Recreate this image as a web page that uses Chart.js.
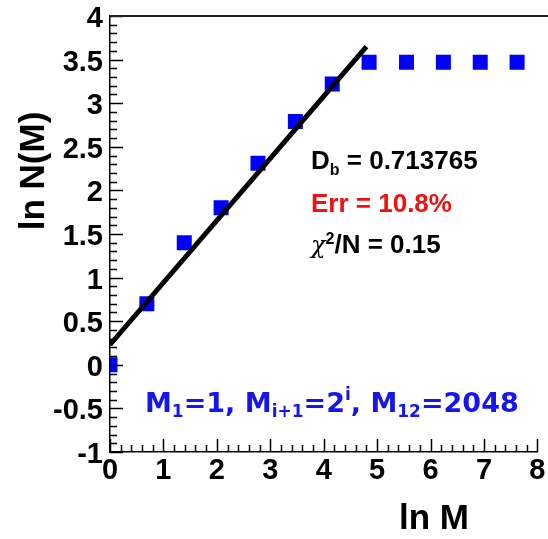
<!DOCTYPE html>
<html lang="en">
<head>
    <meta charset="UTF-8">
    <title>ln N(M) vs ln M</title>
    <script src="https://cdn.jsdelivr.net/npm/chart.js@4/dist/chart.umd.min.js"></script>
    <style>
        body { margin: 0; background: #fff; }
    </style>
</head>
<body>
    <canvas id="myChart" width="548" height="539"></canvas>
    <script>
        // measured points: x = ln M, y = ln N(M)
        const lnM = [0, 0.69, 1.39, 2.08, 2.77, 3.47, 4.16, 4.85, 5.55, 6.24, 6.93, 7.62];
        const lnN = [0, 0.70, 1.40, 1.80, 2.31, 2.79, 3.22, 3.47, 3.47, 3.47, 3.47, 3.47];

        // fitted line end points
        const fitX = [0, 4.8];
        const fitY = [0.23, 3.65];

        const FAM = '"Liberation Sans", Arial, sans-serif';
        const FONT = 'bold 26px ' + FAM;

        // ROOT style ticks pointing into the frame, plus top frame line and text
        const rootFrame = {
            id: 'rootFrame',
            afterDatasetsDraw(chart) {
                const ctx = chart.ctx;
                const a = chart.chartArea;
                const xs = chart.scales.x, ys = chart.scales.y;
                ctx.save();
                ctx.strokeStyle = '#000';
                ctx.lineWidth = 1.5;
                ctx.beginPath();
                for (let i = 0; i <= 50; i++) {
                    const v = -1 + i * 0.1;
                    const py = Math.round(ys.getPixelForValue(v)) + 0.5;
                    const len = (i % 5 === 0) ? 13 : 7;
                    ctx.moveTo(a.left, py);
                    ctx.lineTo(a.left + len, py);
                }
                for (let i = 0; i <= 40; i++) {
                    const v = i * 0.2;
                    const px = Math.round(xs.getPixelForValue(v)) + 0.5;
                    const len = (i % 5 === 0) ? 13 : 7;
                    ctx.moveTo(px, a.bottom);
                    ctx.lineTo(px, a.bottom - len);
                }
                ctx.stroke();

                // top frame line
                ctx.lineWidth = 2;
                ctx.strokeStyle = '#222';
                ctx.beginPath();
                ctx.moveTo(a.left, a.top);
                ctx.lineTo(chart.width, a.top);
                ctx.stroke();

                // axis titles
                ctx.fillStyle = '#000';
                ctx.font = 'bold 35px ' + FAM;
                ctx.textAlign = 'center';
                ctx.textBaseline = 'middle';
                ctx.fillText('ln M', 434, 519);
                ctx.save();
                ctx.translate(34, 171);
                ctx.rotate(-Math.PI / 2);
                ctx.fillText('ln N(M)', 0, 0);
                ctx.restore();

                // fit results
                ctx.textAlign = 'left';
                ctx.textBaseline = 'alphabetic';
                const runs = (x, y, parts) => {
                    parts.forEach(p => {
                        ctx.font = p.font;
                        ctx.fillStyle = p.color;
                        ctx.fillText(p.t, x, y + (p.dy || 0));
                        x += ctx.measureText(p.t).width;
                    });
                };
                const small = 'bold 16px ' + FAM;
                runs(311, 169, [
                    { t: 'D', font: FONT, color: '#000' },
                    { t: 'b', font: small, color: '#000', dy: 6 },
                    { t: ' = 0.713765', font: FONT, color: '#000' }
                ]);
                runs(311, 212, [{ t: 'Err = 10.8%', font: FONT, color: '#f01010' }]);
                runs(311, 253, [
                    { t: 'χ', font: 'italic 24px "DejaVu Serif", serif', color: '#000' },
                    { t: '2', font: small, color: '#000', dy: -9 },
                    { t: '/N = 0.15', font: FONT, color: '#000' }
                ]);

                const big = 'bold 27px "DejaVu Sans", Verdana, sans-serif';
                const sub = 'bold 17px "DejaVu Sans", Verdana, sans-serif';
                const blue = '#1515ee';
                runs(145, 412, [
                    { t: 'M', font: big, color: blue },
                    { t: '1', font: sub, color: blue, dy: 5 },
                    { t: '=1, M', font: big, color: blue },
                    { t: 'i+1', font: sub, color: blue, dy: 5 },
                    { t: '=2', font: big, color: blue },
                    { t: 'i', font: sub, color: blue, dy: -12 },
                    { t: ', M', font: big, color: blue },
                    { t: '12', font: sub, color: blue, dy: 5 },
                    { t: '=2048', font: big, color: blue }
                ]);
                ctx.restore();
            }
        };

        const tickFont = { family: FAM, size: 29, weight: 'bold' };

        const ctx = document.getElementById('myChart').getContext('2d');
        new Chart(ctx, {
            type: 'scatter',
            data: {
                datasets: [{
                    label: 'fit',
                    type: 'line',
                    data: fitX.map((x, i) => ({ x: x, y: fitY[i] })),
                    borderColor: '#000',
                    borderWidth: 5,
                    pointRadius: 0,
                    fill: false,
                    order: 0
                }, {
                    label: 'ln N(M)',
                    data: lnM.map((x, i) => ({ x: x, y: lnN[i] })),
                    backgroundColor: '#0000ff',
                    borderWidth: 0,
                    pointStyle: 'rect',
                    pointRadius: 10.6,
                    order: 1
                }]
            },
            options: {
                responsive: false,
                animation: false,
                devicePixelRatio: 1,
                layout: { padding: { left: 0, right: 8, top: 16, bottom: 0 } },
                plugins: { legend: { display: false }, tooltip: { enabled: false } },
                scales: {
                    x: {
                        type: 'linear',
                        min: 0,
                        max: 8,
                        grid: { display: false, drawTicks: false },
                        border: { display: true, color: '#000', width: 1.5 },
                        ticks: { stepSize: 1, padding: 2, color: '#000', font: tickFont, maxRotation: 0, autoSkip: false },
                        afterFit(scale) {
                            scale.height = 87;
                            scale.paddingLeft = 0;
                            scale.paddingRight = 0;
                        }
                    },
                    y: {
                        type: 'linear',
                        min: -1,
                        max: 4,
                        grid: { display: false, drawTicks: false },
                        border: { display: true, color: '#000', width: 1.5 },
                        ticks: {
                            stepSize: 0.5, padding: 7, labelOffset: 3, color: '#000', font: tickFont, autoSkip: false,
                            callback: (v) => String(v)
                        },
                        afterFit(scale) {
                            scale.width = 110;
                            scale.paddingTop = 0;
                            scale.paddingBottom = 0;
                        }
                    }
                }
            },
            plugins: [rootFrame]
        });
    </script>
</body>
</html>
